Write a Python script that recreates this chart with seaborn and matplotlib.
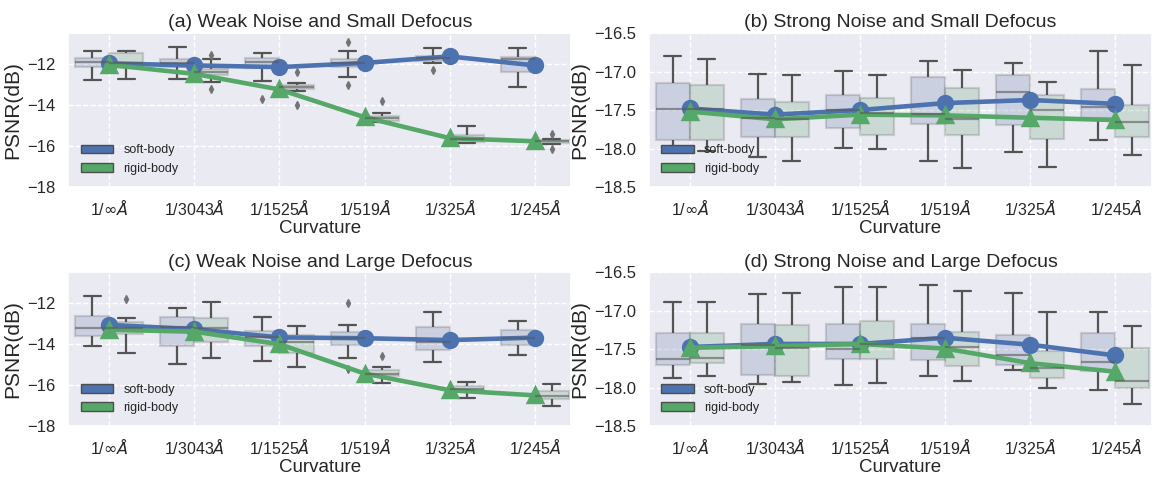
import numpy as np
import pandas as pd
import seaborn as sns
import matplotlib.pyplot as plt
from matplotlib.patches import Patch

# categories on the x axis
curvature = [r"1/$\infty\AA$", r"1/3043$\AA$", r"1/1525$\AA$",
             r"1/519$\AA$", r"1/325$\AA$", r"1/245$\AA$"]
bodies = ["soft-body", "rigid-body"]

# box summaries per curvature: [whisker_lo, q1, median, q3, whisker_hi]
# (a) weak noise, small defocus
a_soft_box = [[-12.81, -12.16, -11.92, -11.72, -11.38],
              [-12.74, -12.15, -11.95, -11.75, -11.19],
              [-12.86, -12.21, -11.90, -11.72, -11.46],
              [-12.64, -12.15, -11.95, -11.75, -11.38],
              [-11.95, -11.88, -11.72, -11.62, -11.25],
              [-13.15, -12.41, -11.75, -11.66, -11.21]]
a_soft_out = [[], [], [-13.70], [-13.02, -10.93], [-12.30], []]
a_rigid_box = [[-12.76, -12.20, -11.95, -11.48, -11.40],
               [-12.90, -12.56, -12.40, -12.24, -11.78],
               [-13.30, -13.22, -13.15, -13.02, -12.93],
               [-14.82, -14.77, -14.66, -14.54, -14.38],
               [-15.85, -15.80, -15.64, -15.48, -15.03],
               [-15.88, -15.84, -15.77, -15.72, -15.66]]
a_rigid_out = [[], [-13.22, -11.56], [-14.00, -12.40], [-13.80], [], [-16.13, -15.43]]
a_soft_mean = [-11.98, -12.08, -12.16, -11.96, -11.64, -12.08]
a_rigid_mean = [-12.05, -12.49, -13.25, -14.60, -15.62, -15.77]

# (b) strong noise, small defocus
b_soft_box = [[-18.01, -17.89, -17.49, -17.155, -16.80],
              [-18.11, -17.85, -17.60, -17.36, -17.035],
              [-17.99, -17.73, -17.50, -17.30, -16.99],
              [-18.16, -17.68, -17.55, -17.07, -16.87],
              [-18.04, -17.70, -17.27, -17.05, -16.89],
              [-17.89, -17.60, -17.46, -17.23, -16.73]]
b_soft_out = [[], [], [], [], [], []]
b_rigid_box = [[-18.03, -17.89, -17.49, -17.18, -16.84],
               [-18.16, -17.845, -17.61, -17.39, -17.04],
               [-18.01, -17.83, -17.54, -17.34, -17.04],
               [-18.25, -17.83, -17.62, -17.21, -16.98],
               [-18.24, -17.88, -17.50, -17.30, -17.13],
               [-18.09, -17.85, -17.66, -17.43, -16.92]]
b_rigid_out = [[], [], [], [], [], []]
b_soft_mean = [-17.48, -17.56, -17.50, -17.41, -17.37, -17.42]
b_rigid_mean = [-17.52, -17.62, -17.56, -17.57, -17.60, -17.63]

# (c) weak noise, large defocus
c_soft_box = [[-14.09, -13.58, -13.19, -12.62, -11.64],
              [-14.94, -14.07, -13.14, -12.69, -12.24],
              [-14.82, -14.09, -13.63, -13.36, -12.69],
              [-14.66, -14.04, -13.71, -13.39, -13.06],
              [-14.89, -14.29, -13.91, -13.14, -12.44],
              [-14.53, -14.04, -13.71, -13.31, -12.85]]
c_soft_out = [[], [], [], [-15.20, -12.00], [], []]
c_rigid_box = [[-14.42, -13.52, -13.22, -12.90, -12.73],
               [-14.66, -13.91, -13.22, -12.73, -11.97],
               [-15.10, -14.44, -13.90, -13.54, -13.10],
               [-15.89, -15.54, -15.43, -15.27, -15.10],
               [-16.62, -16.33, -16.20, -16.03, -15.84],
               [-17.01, -16.69, -16.52, -16.29, -15.95]]
c_rigid_out = [[-11.79], [], [], [-14.58], [], []]
c_soft_mean = [-13.06, -13.27, -13.67, -13.71, -13.80, -13.68]
c_rigid_mean = [-13.30, -13.39, -14.00, -15.43, -16.24, -16.49]

# (d) strong noise, large defocus
d_soft_box = [[-17.87, -17.70, -17.63, -17.29, -16.89],
              [-17.95, -17.83, -17.44, -17.17, -16.78],
              [-17.96, -17.63, -17.50, -17.17, -16.69],
              [-17.84, -17.64, -17.35, -17.17, -16.66],
              [-17.77, -17.70, -17.58, -17.31, -16.77],
              [-18.03, -17.78, -17.67, -17.29, -17.01]]
d_soft_out = [[], [], [], [], [], []]
d_rigid_box = [[-17.84, -17.68, -17.61, -17.29, -16.88],
               [-17.92, -17.85, -17.48, -17.19, -16.77],
               [-17.94, -17.63, -17.43, -17.13, -16.69],
               [-17.91, -17.71, -17.47, -17.27, -16.74],
               [-18.00, -17.87, -17.74, -17.52, -17.01],
               [-18.21, -18.00, -17.91, -17.48, -17.20]]
d_rigid_out = [[], [], [], [], [], []]
d_soft_mean = [-17.47, -17.43, -17.43, -17.35, -17.44, -17.58]
d_rigid_mean = [-17.48, -17.46, -17.43, -17.49, -17.68, -17.79]


def expand(stats, outs):
    # 9 values whose quartiles / whiskers / fliers reproduce the summary
    lo, q1, med, q3, hi = stats
    low = [o for o in outs if o < q1]
    high = [o for o in outs if o > q3]
    a0 = low[0] if low else lo
    a8 = high[0] if high else hi
    return [a0, lo, q1, (q1 + med) / 2, med, (med + q3) / 2, q3, hi, a8]


def long_df(soft_box, soft_out, rigid_box, rigid_out):
    rows = []
    for body, boxes, outs in [("soft-body", soft_box, soft_out),
                              ("rigid-body", rigid_box, rigid_out)]:
        for cat, s, o in zip(curvature, boxes, outs):
            for v in expand(s, o):
                rows.append({"curvature": cat, "body": body, "psnr": v})
    return pd.DataFrame(rows)


def mean_df(soft_mean, rigid_mean):
    return pd.DataFrame({
        "curvature": curvature * 2,
        "body": ["soft-body"] * 6 + ["rigid-body"] * 6,
        "psnr": soft_mean + rigid_mean,
    })


sns.set_theme(style="darkgrid", rc={"grid.linestyle": "--"})
plt.rcParams["font.family"] = ["Liberation Sans", "DejaVu Sans"]
colors = ["#4C72B0", "#55A868"]

panels = [
    ("(a) Weak Noise and Small Defocus", a_soft_box, a_soft_out, a_rigid_box, a_rigid_out,
     a_soft_mean, a_rigid_mean, (-18, -10.5), [-18, -16, -14, -12]),
    ("(b) Strong Noise and Small Defocus", b_soft_box, b_soft_out, b_rigid_box, b_rigid_out,
     b_soft_mean, b_rigid_mean, (-18.5, -16.5), [-18.5, -18.0, -17.5, -17.0, -16.5]),
    ("(c) Weak Noise and Large Defocus", c_soft_box, c_soft_out, c_rigid_box, c_rigid_out,
     c_soft_mean, c_rigid_mean, (-18, -10.5), [-18, -16, -14, -12]),
    ("(d) Strong Noise and Large Defocus", d_soft_box, d_soft_out, d_rigid_box, d_rigid_out,
     d_soft_mean, d_rigid_mean, (-18.5, -16.5), [-18.5, -18.0, -17.5, -17.0, -16.5]),
]

fig, axes = plt.subplots(2, 2, figsize=(11.59, 4.78), dpi=100)
fig.subplots_adjust(left=0.059, right=0.994, top=0.931, bottom=0.108,
                    wspace=0.154, hspace=0.553)

for ax, (title, sb, so, rb, ro, sm, rm, ylim, yticks) in zip(axes.flat, panels):
    df = long_df(sb, so, rb, ro)
    sns.boxplot(data=df, x="curvature", y="psnr", hue="body", order=curvature,
                hue_order=bodies, palette=colors, ax=ax, legend=False,
                linecolor=".33", linewidth=1.6,
                boxprops=dict(alpha=0.22),
                medianprops=dict(color=".35", alpha=0.6),
                flierprops=dict(marker="d", markersize=4, markerfacecolor=".45",
                                markeredgecolor=".45"))
    sns.pointplot(data=mean_df(sm, rm), x="curvature", y="psnr", hue="body",
                  order=curvature, hue_order=bodies, palette=colors,
                  markers=["o", "^"], linestyles=["-", "-"], dodge=False,
                  errorbar=None, ax=ax, legend=False, markersize=10, linewidth=3.3)
    ax.set_ylim(*ylim)
    ax.set_yticks(yticks)
    ax.set_xlim(-0.48, 5.43)
    ax.xaxis.grid(True)
    ax.yaxis.grid(True)
    ax.set_axisbelow(True)
    ax.set_title(title, fontsize=14, pad=4)
    ax.set_xlabel("Curvature", fontsize=13.5, labelpad=1)
    ax.set_ylabel("PSNR(dB)", fontsize=15, labelpad=3)
    ax.tick_params(axis="y", labelsize=12)
    ax.tick_params(axis="x", labelsize=11.5, pad=2)
    handles = [Patch(facecolor=c, edgecolor=".3", label=b) for c, b in zip(colors, bodies)]
    ax.legend(handles=handles, loc="lower left", fontsize=9, frameon=False,
              handlelength=2.6, borderaxespad=0.6)

fig.savefig("out.png", dpi=100)
